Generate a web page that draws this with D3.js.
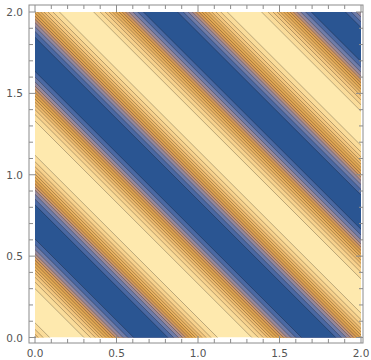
<!DOCTYPE html>
<html>
<head>
<meta charset="utf-8">
<script src="https://cdn.jsdelivr.net/npm/d3@7"></script>
<style>
body { margin: 0; background: #fff; }
</style>
</head>
<body>
<svg id="chart" width="371" height="360"></svg>
<script>
width = 371
height = 360

// centres (in x+y) of the dark blue stripes
var blueCenters = [-0.32, 0.71, 1.74, 2.77, 3.80]
// distance (in x+y) from a blue centre to each contour line
var lineOffsets = [0.105, 0.14, 0.17, 0.195, 0.215, 0.235, 0.255, 0.275, 0.295, 0.315, 0.34, 0.37, 0.41]
// fill inside each contour line, innermost first; creamColor fills the rest
var bandColors = ["#2a5592", "#4a68a2", "#6f7ca8", "#97899c", "#bb9280", "#d49a5e",
                  "#dea252", "#e4aa56", "#e9b262", "#eebb6e", "#f3c67e", "#f7d18c", "#fadc9a"]
var creamColor = "#fee9ae"
var xTicks = [0, 0.5, 1, 1.5, 2]
var yTicks = [0, 0.5, 1, 1.5, 2]
var minorTicks = d3.range(0, 2.0001, 0.1)

var x = d3.scaleLinear().domain([0, 2]).range([35, 361])
var y = d3.scaleLinear().domain([0, 2]).range([337.5, 12])

var svg = d3.select("#chart")

svg.append("clipPath").attr("id", "plotclip")
  .append("rect")
    .attr("x", x(0)).attr("y", y(2))
    .attr("width", x(2) - x(0)).attr("height", y(0) - y(2))

var plot = svg.append("g").attr("clip-path", "url(#plotclip)")

plot.append("rect")
    .attr("x", x(0)).attr("y", y(2))
    .attr("width", x(2) - x(0)).attr("height", y(0) - y(2))
    .style("fill", creamColor)

// a stripe between x+y=s1 and x+y=s2, as a long parallelogram
function stripe(s1, s2) {
  var pts = [[s1 + 1, -1], [s1 - 3, 3], [s2 - 3, 3], [s2 + 1, -1]]
  return "M" + pts.map(function(p){ return x(p[0]) + "," + y(p[1]) }).join("L") + "Z"
}

blueCenters.forEach(function(c) {
  for (var i = lineOffsets.length - 1; i >= 0; i--) {
    plot.append("path")
      .attr("d", stripe(c - lineOffsets[i], c + lineOffsets[i]))
      .style("fill", bandColors[i])
      .style("stroke", "none")
  }
})

// contour lines
blueCenters.forEach(function(c) {
  lineOffsets.forEach(function(o) {
    [c - o, c + o].forEach(function(s) {
      plot.append("line")
        .attr("x1", x(s + 1)).attr("y1", y(-1))
        .attr("x2", x(s - 3)).attr("y2", y(3))
        .style("stroke", "#000")
        .style("stroke-opacity", 0.45)
        .style("stroke-width", 0.6)
    })
  })
})

// frame
var fl = 29, fr = 363, ft = 5, fb = 343
svg.append("rect")
    .attr("x", fl).attr("y", ft)
    .attr("width", fr - fl).attr("height", fb - ft)
    .style("fill", "none")
    .style("stroke", "#8c8c8c")
    .style("stroke-width", 1)

var ticks = svg.append("g").style("stroke", "#8c8c8c").style("stroke-width", 1)
minorTicks.forEach(function(t) {
  var major = Math.abs(t * 2 - Math.round(t * 2)) < 1e-6
  var len = major ? 7 : 4
  ticks.append("line").attr("x1", x(t)).attr("x2", x(t)).attr("y1", fb).attr("y2", fb - len)
  ticks.append("line").attr("x1", x(t)).attr("x2", x(t)).attr("y1", ft).attr("y2", ft + len)
  ticks.append("line").attr("y1", y(t)).attr("y2", y(t)).attr("x1", fl).attr("x2", fl + len)
  ticks.append("line").attr("y1", y(t)).attr("y2", y(t)).attr("x1", fr).attr("x2", fr - len)
})

svg.selectAll(".xlab").data(xTicks).enter().append("text")
    .attr("x", function(d){ return x(d) })
    .attr("y", 357)
    .attr("text-anchor", "middle")
    .style("font-family", "DejaVu Sans, sans-serif")
    .style("font-size", "10.5px")
    .style("fill", "#555")
    .text(function(d){ return d.toFixed(1) })

svg.selectAll(".ylab").data(yTicks).enter().append("text")
    .attr("x", 23)
    .attr("y", function(d){ return y(d) + 4 })
    .attr("text-anchor", "end")
    .style("font-family", "DejaVu Sans, sans-serif")
    .style("font-size", "10.5px")
    .style("fill", "#555")
    .text(function(d){ return d.toFixed(1) })
</script>
</body>
</html>
